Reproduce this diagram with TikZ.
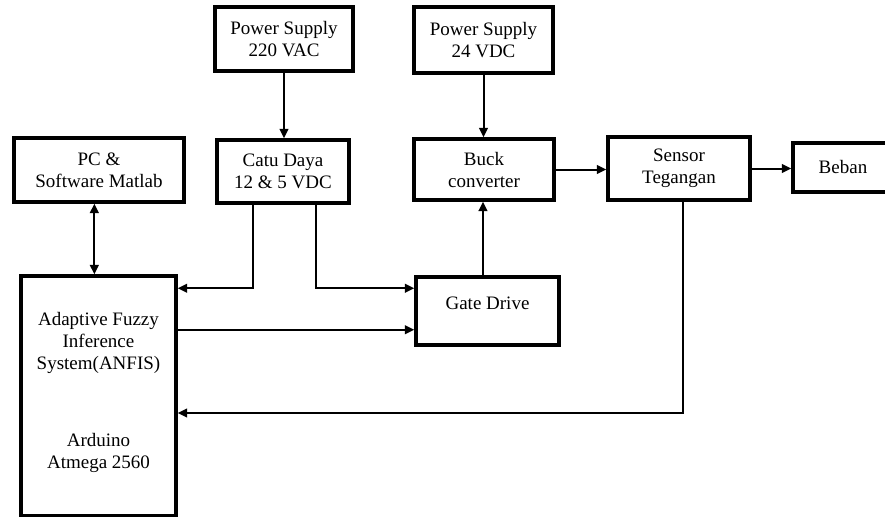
\documentclass[tikz,border=0pt]{standalone}
\usepackage{fontspec}
\setmainfont{Liberation Serif}
\usetikzlibrary{arrows.meta}
\tikzset{
  flow/.style={-{Triangle[length=7pt,width=6.5pt]},line width=1.5pt,draw=black},
  twoway/.style={{Triangle[length=7pt,width=6.5pt]}-{Triangle[length=7pt,width=6.5pt]},
                 line width=1.5pt,draw=black},
  blk/.style={draw=black,line width=2.6pt,fill=white,align=center,inner sep=2pt,
              font=\rmfamily\fontsize{14.25}{16.5}\selectfont}
}

\begin{document}
\begin{tikzpicture}[x=0.75pt,y=-0.75pt]
  \useasboundingbox (0,0) rectangle (885,517);

  % Top: supplies and power path.
  \node[blk,minimum width=103.5pt,minimum height=48pt] (ps220) at (284,39)
    {Power Supply\\220 VAC};
  \node[blk,minimum width=104.25pt,minimum height=49.5pt] (ps24) at (483.5,40)
    {Power Supply\\24 VDC};
  \node[blk,minimum width=127.5pt,minimum height=48pt] (pc) at (99,170)
    {PC \&\\Software Matlab};
  \node[blk,minimum width=99pt,minimum height=47.25pt] (catu) at (283,171.5)
    {Catu Daya\\12 \& 5 VDC};
  \node[blk,minimum width=105pt,minimum height=45.75pt] (buck) at (484,169.5)
    {Buck\\converter};
  \node[blk,minimum width=106.5pt,minimum height=47.25pt] (sensor) at (679,168.5)
    {Sensor\\Tegangan};
  \node[blk,minimum width=75pt,minimum height=36.75pt] (beban) at (843,167.5)
    {Beban};

  % Bottom: controller and driver.
  \node[blk,minimum width=116.25pt,minimum height=180pt,text depth=8pt] (ard) at (98.5,396)
    {Adaptive Fuzzy\\Inference\\System(ANFIS)\\[41.25pt]Arduino\\Atmega 2560};
  \node[blk,minimum width=107.25pt,minimum height=51pt,text depth=12pt] (gate) at (487.5,311)
    {Gate Drive};

  \draw[flow] (ps220.south) -- (ps220.south |- catu.north);
  \draw[flow] (ps24.south) -- (ps24.south |- buck.north);
  \draw[twoway] ([xshift=-3.5pt]pc.south) -- ([xshift=-3.5pt]pc.south |- ard.north);
  \draw[flow] ([xshift=-22.5pt]catu.south) |- ([yshift=-10.5pt]ard.north east);
  \draw[flow] ([xshift=24.75pt]catu.south) |- ([yshift=-9.75pt]gate.north west);
  \coordinate (gin) at ([yshift=12.75pt]gate.south west);
  \draw[flow] (gin -| ard.east) -- (gin);
  \draw[flow] ([xshift=-3.4pt]gate.north) -- ([xshift=-3.4pt]gate.north |- buck.south);
  \draw[flow] (buck.east) -- (buck.east -| sensor.west);
  \draw[flow] (sensor.east) -- (sensor.east -| beban.west);
  \draw[flow] ([xshift=3pt]sensor.south) |- ([yshift=-12.75pt]ard.east);
\end{tikzpicture}
\end{document}
